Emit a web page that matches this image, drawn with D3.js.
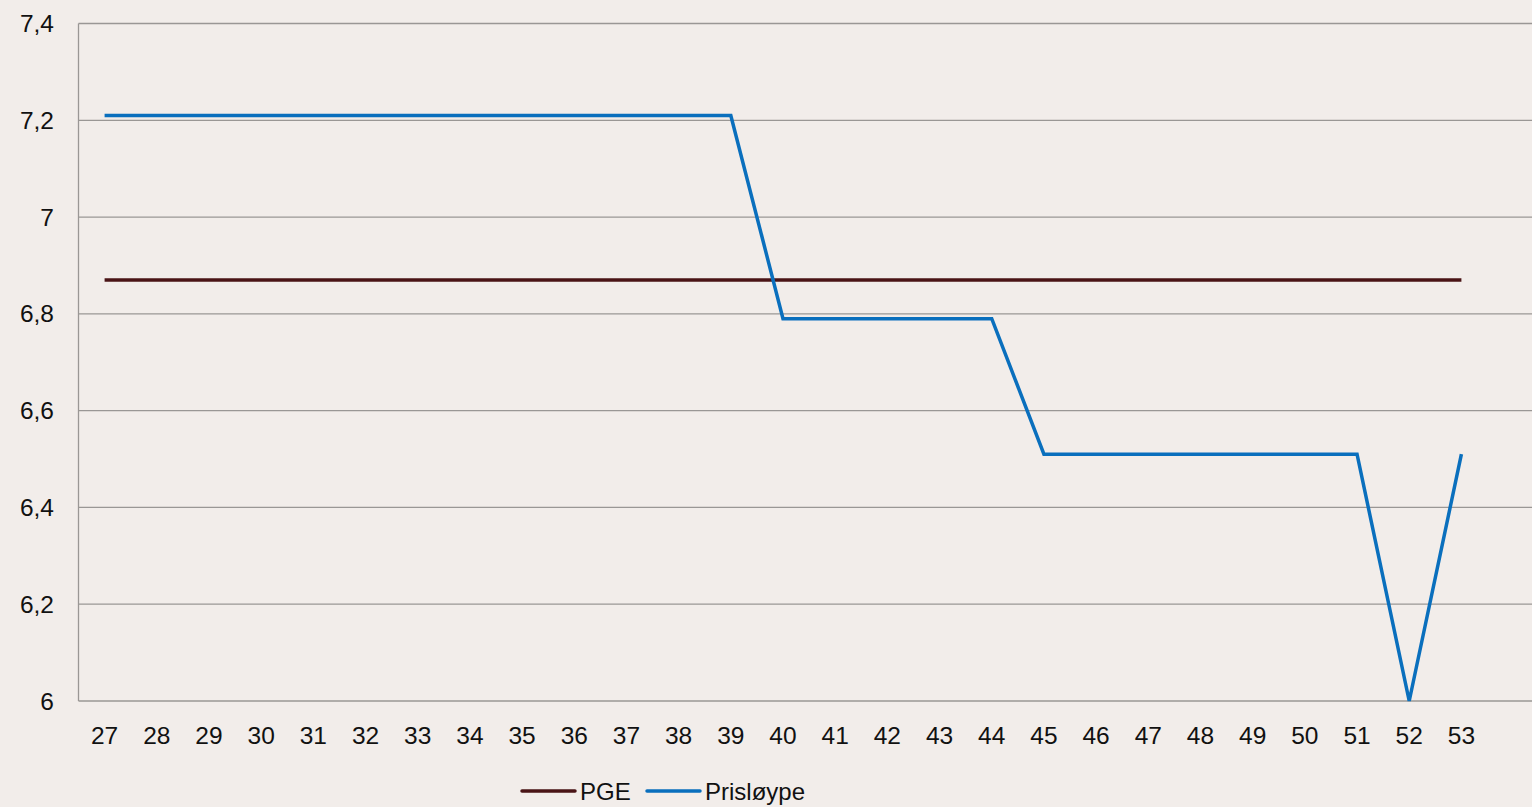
<!DOCTYPE html>
<html><head><meta charset="utf-8">
<script src="https://cdn.jsdelivr.net/npm/d3@7"></script>
<style>html,body{margin:0;padding:0;background:#f2edea;overflow:hidden}</style>
</head><body><svg id="c" width="1532" height="807"></svg>
<script>
const weeks = ["27","28","29","30","31","32","33","34","35","36","37","38","39","40","41","42","43","44","45","46","47","48","49","50","51","52","53"];
const pge = [6.87,6.87,6.87,6.87,6.87,6.87,6.87,6.87,6.87,6.87,6.87,6.87,6.87,6.87,6.87,6.87,6.87,6.87,6.87,6.87,6.87,6.87,6.87,6.87,6.87,6.87,6.87];
const prislopye = [7.21,7.21,7.21,7.21,7.21,7.21,7.21,7.21,7.21,7.21,7.21,7.21,7.21,6.79,6.79,6.79,6.79,6.79,6.51,6.51,6.51,6.51,6.51,6.51,6.51,6.0,6.51];
const yTicks = [6,6.2,6.4,6.6,6.8,7,7.2,7.4];
const seriesNames = ["PGE","Prisløype"];
const colors = ["#4a1416","#0a6fbd"];

const svg = d3.select("#c");
const font = "'Liberation Sans', Arial, sans-serif";
const x = d3.scaleBand().domain(weeks).range([78.5, 1487.5]);
const y = d3.scaleLinear().domain([6,7.4]).range([701, 23.5]);

svg.append("g").selectAll("line").data(yTicks).join("line")
  .attr("x1",78.5).attr("x2",1532).attr("y1",d=>y(d)).attr("y2",d=>y(d))
  .attr("stroke","#9a9795").attr("stroke-width",1.3);
svg.append("line").attr("x1",78.5).attr("x2",78.5).attr("y1",y(7.4)).attr("y2",y(6))
  .attr("stroke","#9a9795").attr("stroke-width",1.3);

svg.append("g").selectAll("text").data(yTicks).join("text")
  .attr("x",54).attr("y",d=>y(d)+8.5).attr("text-anchor","end")
  .attr("font-family",font).attr("font-size",24.5).attr("fill","#111")
  .text(d=>String(d).replace(".",","));
svg.append("g").selectAll("text").data(weeks).join("text")
  .attr("x",d=>x(d)+x.bandwidth()/2).attr("y",744).attr("text-anchor","middle")
  .attr("font-family",font).attr("font-size",24.5).attr("fill","#111")
  .text(d=>d);

const line = d3.line().x((d,i)=>x(weeks[i])+x.bandwidth()/2).y(d=>y(d));
[pge, prislopye].forEach((s,k)=>{
  svg.append("path").datum(s).attr("d",line).attr("fill","none")
    .attr("stroke",colors[k]).attr("stroke-width",3.5).attr("stroke-linejoin","miter");
});

const leg = [{x:522,tx:580},{x:647,tx:705}];
leg.forEach((l,k)=>{
  svg.append("line").attr("x1",l.x).attr("x2",l.x+53).attr("y1",791).attr("y2",791)
    .attr("stroke",colors[k]).attr("stroke-width",3.5).attr("stroke-linecap","round");
  svg.append("text").attr("x",l.tx).attr("y",800).attr("font-family",font)
    .attr("font-size",24).attr("fill","#111").text(seriesNames[k]);
});
</script></body></html>
